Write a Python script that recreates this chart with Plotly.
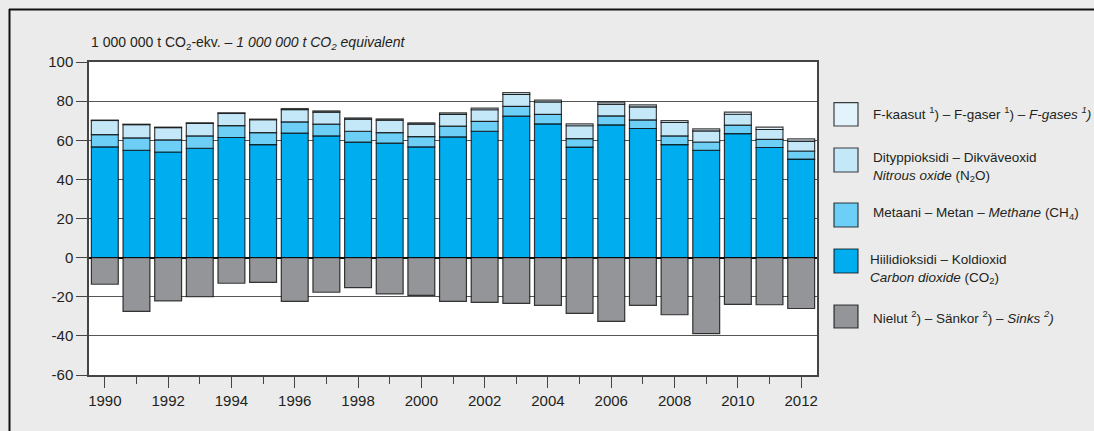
import plotly.graph_objects as go

years = list(range(1990, 2013))
co2 = [56.6, 54.9, 54.0, 55.9, 61.4, 57.8, 63.6, 62.2, 59.0, 58.5, 56.6, 61.7,
       64.6, 72.3, 68.4, 56.5, 67.9, 66.0, 57.8, 54.9, 63.4, 56.3, 50.4]
ch4 = [6.3, 6.3, 6.2, 6.3, 6.1, 6.1, 5.8, 6.0, 5.6, 5.4, 5.3, 5.5,
       5.0, 5.0, 4.8, 4.3, 4.6, 4.4, 4.4, 4.2, 4.3, 4.1, 4.1]
n2o = [7.2, 6.8, 6.3, 6.4, 6.2, 6.6, 6.3, 6.2, 6.2, 6.4, 6.3, 6.0,
       6.0, 6.2, 6.4, 6.6, 6.0, 6.7, 6.9, 5.7, 5.6, 5.1, 5.1]
fgas = [0.2, 0.2, 0.2, 0.3, 0.3, 0.3, 0.5, 0.6, 0.6, 0.6, 0.7, 0.8,
        0.8, 0.9, 0.9, 1.0, 1.0, 1.0, 1.0, 1.0, 1.1, 1.2, 1.1]
sinks = [-13.6, -27.5, -22.1, -20.0, -13.1, -12.7, -22.4, -17.7, -15.3, -18.5, -19.3, -22.4,
         -22.9, -23.4, -24.4, -28.5, -32.6, -24.4, -29.2, -38.9, -23.9, -24.1, -26.0]

y_ticks = [100, 80, 60, 40, 20, 0, -20, -40, -60]
y_ticktext = ["100", "80", "60", "40", "20", "0", "-20", "-40", "-60"]
x_ticks = list(range(1990, 2013, 2))

legend_labels = [
    "F-kaasut <sup>1</sup>) – F-gaser <sup>1</sup>) – <i>F-gases <sup>1</sup>)</i>",
    "Dityppioksidi – Dikväveoxid<br><i>Nitrous oxide</i> (N<sub>2</sub>O)",
    "Metaani – Metan – <i>Methane</i> (CH<sub>4</sub>)",
    "Hiilidioksidi – Koldioxid<br><i>Carbon dioxide</i> (CO<sub>2</sub>)",
    "Nielut <sup>2</sup>) – Sänkor <sup>2</sup>) – <i>Sinks <sup>2</sup>)</i>",
]
colors = ["#e2f3fc", "#c5e8f9", "#6dcff6", "#00aeef", "#939598"]

FONT = "Liberation Sans, Arial, sans-serif"
TXT = "#231f20"

W, H = 1094, 431
L, R, T, B = 89, 817, 62, 375


def px(x):
    return (x - L) / (R - L)


def py(y):
    return (B - y) / (B - T)


fig = go.Figure()
line = dict(color="rgba(0,0,0,0.75)", width=1.2)
for vals, col, name in [(co2, colors[3], "CO2"), (ch4, colors[2], "CH4"),
                        (n2o, colors[1], "N2O"), (fgas, colors[0], "F-gases"),
                        (sinks, colors[4], "Sinks")]:
    fig.add_trace(go.Bar(x=years, y=vals, name=name, marker=dict(color=col, line=line),
                         showlegend=False, hoverinfo="x+y"))

shapes = []
annotations = []
# outer frame (top and left)
shapes.append(dict(type="line", xref="paper", yref="paper", x0=px(9), x1=px(W + 5),
                   y0=py(9.5), y1=py(9.5), line=dict(color="#111", width=2)))
shapes.append(dict(type="line", xref="paper", yref="paper", x0=px(9.5), x1=px(9.5),
                   y0=py(9), y1=py(H + 5), line=dict(color="#111", width=2)))

# legend
sq = [(102.7, 126), (148, 172), (203, 227), (249, 273), (305, 328)]
txt_y = [113, 166.5, 213, 268.5, 317]
txt_x = [871, 871, 871, 868, 871]
for (y0, y1), c, lab, ty, tx in zip(sq, colors, legend_labels, txt_y, txt_x):
    shapes.append(dict(type="rect", xref="paper", yref="paper", x0=px(834), x1=px(858),
                       y0=py(y1), y1=py(y0), fillcolor=c,
                       line=dict(color="rgba(0,0,0,0.75)", width=1.2)))
    annotations.append(dict(text=lab, xref="paper", yref="paper", x=px(tx), y=py(ty),
                            xanchor="left", yanchor="middle", align="left", showarrow=False,
                            font=dict(family=FONT, size=13.5, color=TXT)))

annotations.append(dict(
    text="1 000 000 t CO<sub>2</sub>-ekv. – <i>1 000 000 t CO<sub>2</sub> equivalent</i>",
    xref="paper", yref="paper", x=px(89), y=py(43), xanchor="left", yanchor="middle",
    showarrow=False, font=dict(family=FONT, size=14, color=TXT)))

fig.update_layout(
    width=W, height=H,
    margin=dict(l=L, r=W - R, t=T, b=H - B, pad=0),
    paper_bgcolor="#ebebeb", plot_bgcolor="white",
    barmode="relative", bargap=0.15,
    font=dict(family=FONT, size=15, color=TXT),
    shapes=shapes, annotations=annotations,
    xaxis=dict(range=[1989.5, 2012.5], tickmode="array", tickvals=x_ticks,
               ticktext=[str(v) for v in x_ticks], ticks="outside", ticklen=11,
               tickcolor="#444", tickwidth=1.3, showgrid=False, zeroline=False,
               showline=True, linecolor="#444", linewidth=1.5, mirror=True,
               minor=dict(dtick=1, tick0=1990, ticks="outside", ticklen=7,
                          tickcolor="#444", tickwidth=1.3, showgrid=False),
               tickfont=dict(family=FONT, size=15, color=TXT)),
    yaxis=dict(range=[-60, 100], tickmode="array", tickvals=y_ticks, ticktext=y_ticktext,
               ticks="outside", ticklen=11, tickcolor="#444", tickwidth=1.3,
               showgrid=True, gridcolor="#555", gridwidth=1,
               zeroline=True, zerolinecolor="#111", zerolinewidth=1.5,
               showline=True, linecolor="#444", linewidth=1.5, mirror=True,
               tickfont=dict(family=FONT, size=15, color=TXT)),
)

fig.write_html("out.html", config={"displayModeBar": False},
               post_script="document.body.style.margin='0';document.body.style.overflow='hidden';")
